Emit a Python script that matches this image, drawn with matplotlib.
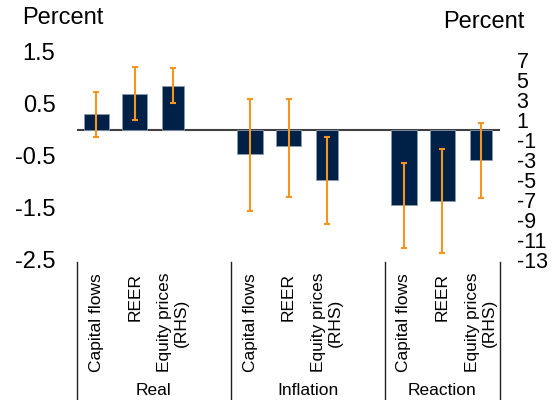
import matplotlib.pyplot as plt
import matplotlib.transforms as mtransforms

plt.rcParams['font.family'] = ['Liberation Sans', 'DejaVu Sans']

groups = ["Real", "Inflation", "Reaction"]
variables = ["Capital flows", "REER", "Equity prices\n(RHS)"]

# capital flows and REER (left axis, percent)
cf_mid = [0.31, -0.46, -1.44]
cf_lo = [-0.13, -1.55, -2.27]
cf_hi = [0.74, 0.60, -0.63]
reer_mid = [0.69, -0.31, -1.36]
reer_lo = [0.19, -1.28, -2.36]
reer_hi = [1.22, 0.60, -0.36]
# equity prices (right axis, percent)
eq_mid = [4.4, -5.0, -3.0]
eq_lo = [2.7, -9.4, -6.8]
eq_hi = [6.2, -0.7, 0.7]

navy = "#002147"
orange = "#F7941D"

fig = plt.figure(figsize=(5.53, 4.0), dpi=100)
ax = fig.add_axes([77 / 553, 140 / 400, 423 / 553, 208 / 400])
ax2 = ax.twinx()

slots = [0, 4, 8]
cf_x = [s for s in slots]
reer_x = [s + 1 for s in slots]
eq_x = [s + 2 for s in slots]


def err(mid, lo, hi):
    return [[m - l for m, l in zip(mid, lo)], [h - m for m, h in zip(mid, hi)]]


ekw = dict(ecolor=orange, elinewidth=1.5, capsize=2.3, capthick=1.5)
ax.bar(cf_x, cf_mid, width=0.66, color=navy, edgecolor="#8a9bb0", linewidth=0.6,
       yerr=err(cf_mid, cf_lo, cf_hi), error_kw=ekw, zorder=2)
ax.bar(reer_x, reer_mid, width=0.66, color=navy, edgecolor="#8a9bb0", linewidth=0.6,
       yerr=err(reer_mid, reer_lo, reer_hi), error_kw=ekw, zorder=2)
ax2.bar(eq_x, eq_mid, width=0.56, color=navy, edgecolor="#8a9bb0", linewidth=0.6,
        yerr=err(eq_mid, eq_lo, eq_hi), error_kw=ekw, zorder=2)

ax.axhline(0, color="#404040", linewidth=1.5, zorder=1)

ax.set_xlim(-0.5, 10.5)
ax.set_ylim(-2.5, 1.5)
ax2.set_ylim(-13, 7.8)
ax.set_yticks([1.5, 0.5, -0.5, -1.5, -2.5])
ax.set_yticklabels(["1.5", "0.5", "-0.5", "-1.5", "-2.5"])
ax2.set_yticks(list(range(-13, 8, 2)))
ax2.set_yticklabels([str(v) for v in range(-13, 8, 2)])
ax.tick_params(axis="y", length=0, labelsize=17, pad=15.5)
ax2.tick_params(axis="y", length=0, labelsize=15.5, pad=12)
ax.set_xticks([])
for a in (ax, ax2):
    for sp in a.spines.values():
        sp.set_visible(False)

fig.text(22 / 553, 1 - 18 / 400, "Percent", fontsize=17, va="center", ha="left")
fig.text(443 / 553, 1 - 22 / 400, "Percent", fontsize=17, va="center", ha="left")

# category axis below the plot
trans = mtransforms.blended_transform_factory(ax.transData, ax.transAxes)
for s in slots:
    for k, label in enumerate(variables):
        ax.text(s + k, -13 / 208, label, transform=trans, rotation=90,
                ha="center", va="top", multialignment="center", fontsize=12.5)
seps = [-0.5, 3.5, 7.5, 10.5]
for x in seps:
    ax.plot([x, x], [-2 / 208, -150 / 208], transform=trans, color="#202020",
            linewidth=1, clip_on=False)
for g, left, right in zip(groups, seps[:-1], seps[1:]):
    ax.text((left + right) / 2, -123 / 208, g, transform=trans, ha="center",
            va="top", fontsize=12.5)

fig.savefig("out.png", dpi=100)
